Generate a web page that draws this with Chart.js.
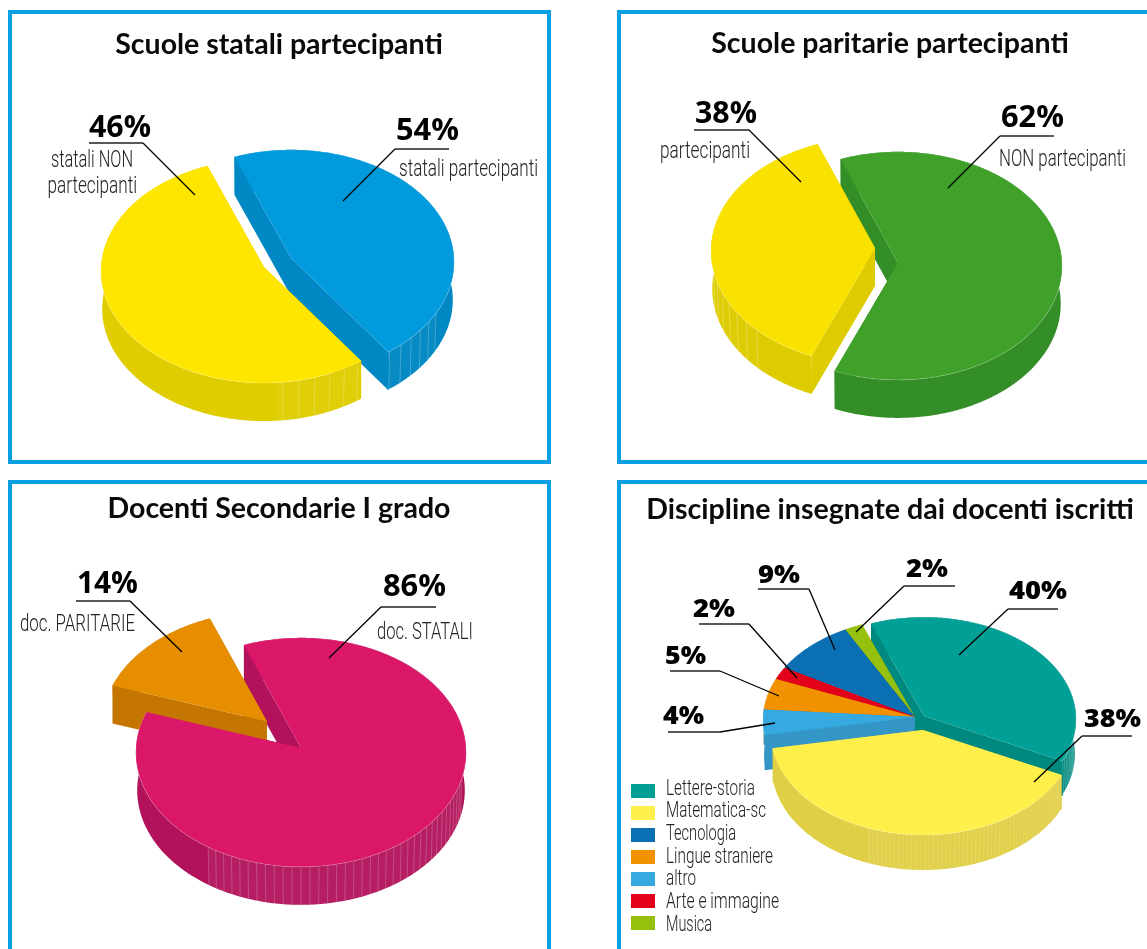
<!DOCTYPE html>
<html lang="it">
<head>
<meta charset="utf-8">
<title>Scuole e docenti partecipanti</title>
<script src="https://cdn.jsdelivr.net/npm/chart.js@4"></script>
<style>
html,body{margin:0;padding:0;background:#fff;width:1147px;height:949px;overflow:hidden}
.box{position:absolute;box-sizing:border-box;border:4px solid #0aa0e2}
canvas{position:absolute}
</style>
</head>
<body>
<div class="box" style="left:8px;top:10px;width:543px;height:454px"></div>
<div class="box" style="left:617px;top:10px;width:560px;height:454px"></div>
<div class="box" style="left:8px;top:480px;width:543px;height:500px"></div>
<div class="box" style="left:617px;top:480px;width:560px;height:500px"></div>
<canvas id="c1"></canvas><canvas id="c2"></canvas><canvas id="c3"></canvas><canvas id="c4"></canvas>
<script>
// ---- DATA: slice sizes as drawn (clockwise from the first cut), and the percentages printed beside them
const titleA = "Scuole statali partecipanti";
const categoriesA = ["statali partecipanti", "statali NON partecipanti"];
const valuesA = [46, 54];
const printedA = ["54%", "46%"];

const titleB = "Scuole paritarie partecipanti";
const categoriesB = ["NON partecipanti", "partecipanti"];
const valuesB = [62, 38];
const printedB = ["62%", "38%"];

const titleC = "Docenti Secondarie I grado";
const categoriesC = ["doc. STATALI", "doc. PARITARIE"];
const valuesC = [86, 14];
const printedC = ["86%", "14%"];

const titleD = "Discipline insegnate dai docenti iscritti";
const categoriesD = ["Lettere-storia", "Matematica-sc", "altro", "Lingue straniere", "Arte e immagine", "Tecnologia", "Musica"];
const valuesD = [38, 40, 4, 5, 2, 9, 2];
const printedD = ["40%", "38%", "4%", "5%", "2%", "9%", "2%"];
const legendOrderD = [0, 1, 5, 3, 2, 4, 6];

// ---- STYLE
const faceA = ["#009ADD", "#FFE600"], wallA = ["#0088C4", "#DFCD00"];
const faceB = ["#40A12A", "#F9E200"], wallB = ["#348E27", "#DECC00"];
const faceC = ["#DB1769", "#E68E00"], wallC = ["#B2125A", "#C47600"];
const faceD = ["#00A096", "#FFEF4B", "#36A9E0", "#F39200", "#E2001A", "#0B70B3", "#95C00E"];
const wallD = ["#00897F", "#E0CF45", "#3396C6", "#C47600", "#B00014", "#095A90", "#78990B"];

const TITLE_FAMILY = "Lato";
const PCT_FONT = "700 30px 'Open Sans'";
const PCT_FONT_SM = "800 25px 'Open Sans'";
const LABEL_FONT = "300 24px Roboto";
const LEGEND_FONT = "300 22px Roboto";

function panel(cfg) {
  const cv = document.getElementById(cfg.id);
  cv.width = cfg.w; cv.height = cfg.h;
  cv.style.left = cfg.left + "px"; cv.style.top = cfg.top + "px";
  cv.style.width = cfg.w + "px"; cv.style.height = cfg.h + "px";
  const plugin = {
    id: "pie3d",
    beforeDatasetsDraw(chart) {
      const ctx = chart.ctx, els = chart.getDatasetMeta(0).data;
      ctx.save();
      ctx.translate(-cfg.left, -cfg.top);
      const pt = (i, a, down) => {
        const e = els[i], r = e.outerRadius, X = r * Math.cos(a), Y = r * Math.sin(a);
        const s = 1 / (1 - cfg.q * Y / r);
        const shrink = down ? 0.992 : 1;
        return [cfg.apex[i][0] + X * s * shrink, cfg.apex[i][1] + Y * cfg.k * s + (down ? cfg.depth : 0)];
      };
      const poly = (pts, fill) => {
        ctx.beginPath();
        pts.forEach((p, n) => n ? ctx.lineTo(p[0], p[1]) : ctx.moveTo(p[0], p[1]));
        ctx.closePath(); ctx.fillStyle = fill; ctx.fill();
      };
      const arcPts = (i, a0, a1, down) => {
        const out = [], n = Math.max(2, Math.ceil(Math.abs(a1 - a0) / 0.01));
        for (let j = 0; j <= n; j++) out.push(pt(i, a0 + (a1 - a0) * j / n, down));
        return out;
      };
      const wall = (i) => {
        const e = els[i], c = cfg.wall[i], ap = cfg.apex[i];
        const p0 = pt(i, e.startAngle), p1 = pt(i, e.endAngle);
        const q0 = [p0[0], p0[1] + cfg.depth], q1 = [p1[0], p1[1] + cfg.depth];
        const ad = [ap[0], ap[1] + cfg.depth];
        poly([ap, p0, q0, ad], c);
        poly([ap, p1, q1, ad], c);
        poly(arcPts(i, e.startAngle, e.endAngle, false).concat(arcPts(i, e.endAngle, e.startAngle, true)), c);
        (cfg.stripes[i] || []).forEach(([from, to, step, alpha, lift]) => {
          const rad = d => (d - 90) * Math.PI / 180;
          const lo = rad(from), hi = rad(to);
          poly(arcPts(i, lo, hi, false).concat(arcPts(i, hi, lo, true)), `rgba(255,255,255,${lift})`);
          ctx.strokeStyle = `rgba(255,255,255,${alpha})`; ctx.lineWidth = 1;
          for (let d = from; d <= to + 0.01; d += step) {
            const a = pt(i, rad(d)), b = pt(i, rad(d), true);
            ctx.beginPath(); ctx.moveTo(a[0], a[1]); ctx.lineTo(b[0], b[1]); ctx.stroke();
          }
        });
      };
      const face = (i) => {
        const e = els[i];
        const pts = [cfg.apex[i]].concat(arcPts(i, e.startAngle, e.endAngle, false));
        poly(pts, chart.data.datasets[0].backgroundColor[i]);
        if (cfg.rim) {
          ctx.beginPath();
          const rim = arcPts(i, e.startAngle, e.endAngle, false);
          rim.forEach((p, n) => n ? ctx.lineTo(p[0], p[1]) : ctx.moveTo(p[0], p[1]));
          ctx.strokeStyle = "rgba(255,255,255,0.25)"; ctx.lineWidth = 0.7; ctx.stroke();
        }
      };
      cfg.layers.forEach(([i, kind]) => kind === "wall" ? wall(i) : face(i));
      ctx.restore();
      return false;
    },
    afterDraw(chart) {
      const ctx = chart.ctx;
      ctx.save();
      ctx.translate(-cfg.left, -cfg.top);
      const fit = (text, x0, x1, base, font, color) => {
        ctx.font = font; ctx.fillStyle = color; ctx.textAlign = "left"; ctx.textBaseline = "alphabetic";
        const w = ctx.measureText(text).width;
        ctx.save(); ctx.translate(x0, base); ctx.scale((x1 - x0) / w, 1); ctx.fillText(text, 0, 0); ctx.restore();
      };
      cfg.leaders.forEach(l => {
        ctx.beginPath();
        ctx.moveTo(l[0][0], l[0][1]); ctx.lineTo(l[1][0], l[1][1]);
        ctx.strokeStyle = "#222"; ctx.lineWidth = 1.4; ctx.stroke();
        ctx.beginPath();
        ctx.moveTo(l[1][0], l[1][1]); ctx.lineTo(l[2][0], l[2][1]);
        ctx.strokeStyle = "#000"; ctx.lineWidth = 1.3; ctx.stroke();
      });
      cfg.pct.forEach((p, i) => fit(cfg.printed[i], p[0], p[1], p[2], cfg.pctFont, "#000"));
      (cfg.labels || []).forEach(l => fit(l[0], l[1], l[2], l[3], LABEL_FONT, "#222"));
      if (cfg.legend) {
        cfg.legend.order.forEach((idx, n) => {
          ctx.fillStyle = cfg.faces[idx];
          ctx.fillRect(cfg.legend.x, cfg.legend.y[n], 24, 14);
          fit(cfg.categories[idx], cfg.legend.tx, cfg.legend.tx + cfg.legend.w[n], cfg.legend.base[n], LEGEND_FONT, "#222");
        });
      }
      ctx.restore();
    }
  };
  return new Chart(cv.getContext("2d"), {
    type: "pie",
    data: { labels: cfg.categories, datasets: [{ data: cfg.values, backgroundColor: cfg.faces, borderWidth: 0 }] },
    options: {
      responsive: false, animation: false, rotation: -21, radius: cfg.r,
      plugins: {
        legend: { display: false }, tooltip: { enabled: false },
        title: { display: true, text: cfg.title, color: "#0a0a0a",
          font: { family: TITLE_FAMILY, size: cfg.titleSize, weight: "700" },
          padding: { top: cfg.titleTop, bottom: 4 } }
      }
    },
    plugins: [plugin]
  });
}

panel({ id: "c1", left: 0, top: 0, w: 558, h: 470, title: titleA, titleSize: 28.5, titleTop: 28,
  categories: categoriesA, values: valuesA, printed: printedA, faces: faceA, wall: wallA,
  r: 163, k: 0.687, q: 0.035, depth: 38, apex: [[291, 258], [264, 267]], rim: true,
  layers: [[0, "wall"], [1, "wall"], [1, "top"], [0, "top"]],
  stripes: [[[119, 144, 5, 0.22, 0.03]], [[146, 176, 5.5, 0.22, 0.03]]],
  pctFont: PCT_FONT, pct: [[396, 459, 139.5], [89, 151, 137]],
  leaders: [[[449, 149], [395, 149], [343, 201]], [[89, 143], [143, 143], [195, 195]]],
  labels: [["statali partecipanti", 399, 538, 176], ["statali NON", 51, 133, 167], ["partecipanti", 47.5, 137, 193]]
});
panel({ id: "c2", left: 618, top: 0, w: 544, h: 470, title: titleB, titleSize: 28.5, titleTop: 27,
  categories: categoriesB, values: valuesB, printed: printedB, faces: faceB, wall: wallB,
  r: 164, k: 0.695, q: 0.025, depth: 38, apex: [[898, 263], [875, 248]], rim: true,
  layers: [[0, "wall"], [1, "wall"], [1, "top"], [0, "top"]],
  stripes: [[], [[225, 262, 5.5, 0.25, 0.02]]],
  pctFont: PCT_FONT, pct: [[1001, 1064, 126.5], [695, 757, 123]],
  leaders: [[[1054, 136], [1000, 136], [948, 188]], [[694, 130], [749, 130], [801, 182]]],
  labels: [["NON partecipanti", 999, 1126, 166], ["partecipanti", 660, 750, 158]]
});
panel({ id: "c3", left: 0, top: 473, w: 558, h: 476, title: titleC, titleSize: 28.5, titleTop: 19,
  categories: categoriesC, values: valuesC, printed: printedC, faces: faceC, wall: wallC,
  r: 165, k: 0.693, q: 0.038, depth: 38, apex: [[301, 748], [267, 721.5]], rim: true,
  layers: [[0, "wall"], [1, "wall"], [1, "top"], [0, "top"]],
  stripes: [[[105, 213, 3, 0.2, 0.05]], []],
  pctFont: PCT_FONT, pct: [[383, 446, 596], [77, 138, 593]],
  leaders: [[[436, 607], [381, 607], [329, 658]], [[76, 601], [130, 601], [182, 652]]],
  labels: [["doc. STATALI", 377, 473, 639], ["doc. PARITARIE", 20, 135, 631]]
});
panel({ id: "c4", left: 618, top: 473, w: 544, h: 476, title: titleD, titleSize: 28.6, titleTop: 20,
  categories: categoriesD, values: valuesD, printed: printedD, faces: faceD, wall: wallD,
  r: 152, k: 0.67, q: 0.03, depth: 35,
  apex: [[924, 716], [923, 730], [915, 717], [915, 717], [915, 717], [915, 717], [915, 717]], rim: true,
  layers: [[0, "wall"], [6, "wall"], [6, "top"], [5, "wall"], [5, "top"], [4, "wall"], [4, "top"], [3, "wall"], [3, "top"], [2, "wall"], [2, "top"], [1, "wall"], [1, "top"], [0, "top"]],
  stripes: [[[100, 115, 2, 0.2, 0.03]], [[117, 201, 1.6, 0.14, 0.03]]],
  pctFont: PCT_FONT_SM,
  pct: [[1009, 1067, 599], [1084, 1141, 727], [663, 704, 724], [665, 706, 664], [693, 735, 617], [758, 800, 583], [906, 948, 577]],
  leaders: [[[1058, 609], [1008, 609], [959, 655]], [[1132, 736], [1082, 736], [1034, 782]],
    [[668, 732], [720, 732], [775, 723]], [[670, 671], [720, 671], [779, 696]],
    [[699, 624], [749, 624], [797, 678]], [[758, 589], [809, 589], [835, 650]], [[955, 586], [904, 586], [856, 632]]],
  legend: { order: legendOrderD, x: 631, tx: 666, y: [784, 806, 828, 850, 872, 894, 916],
    base: [795, 817, 840, 863, 885, 908, 931], w: [89, 100, 70, 107, 30, 113, 46] }
});
</script>
</body>
</html>
